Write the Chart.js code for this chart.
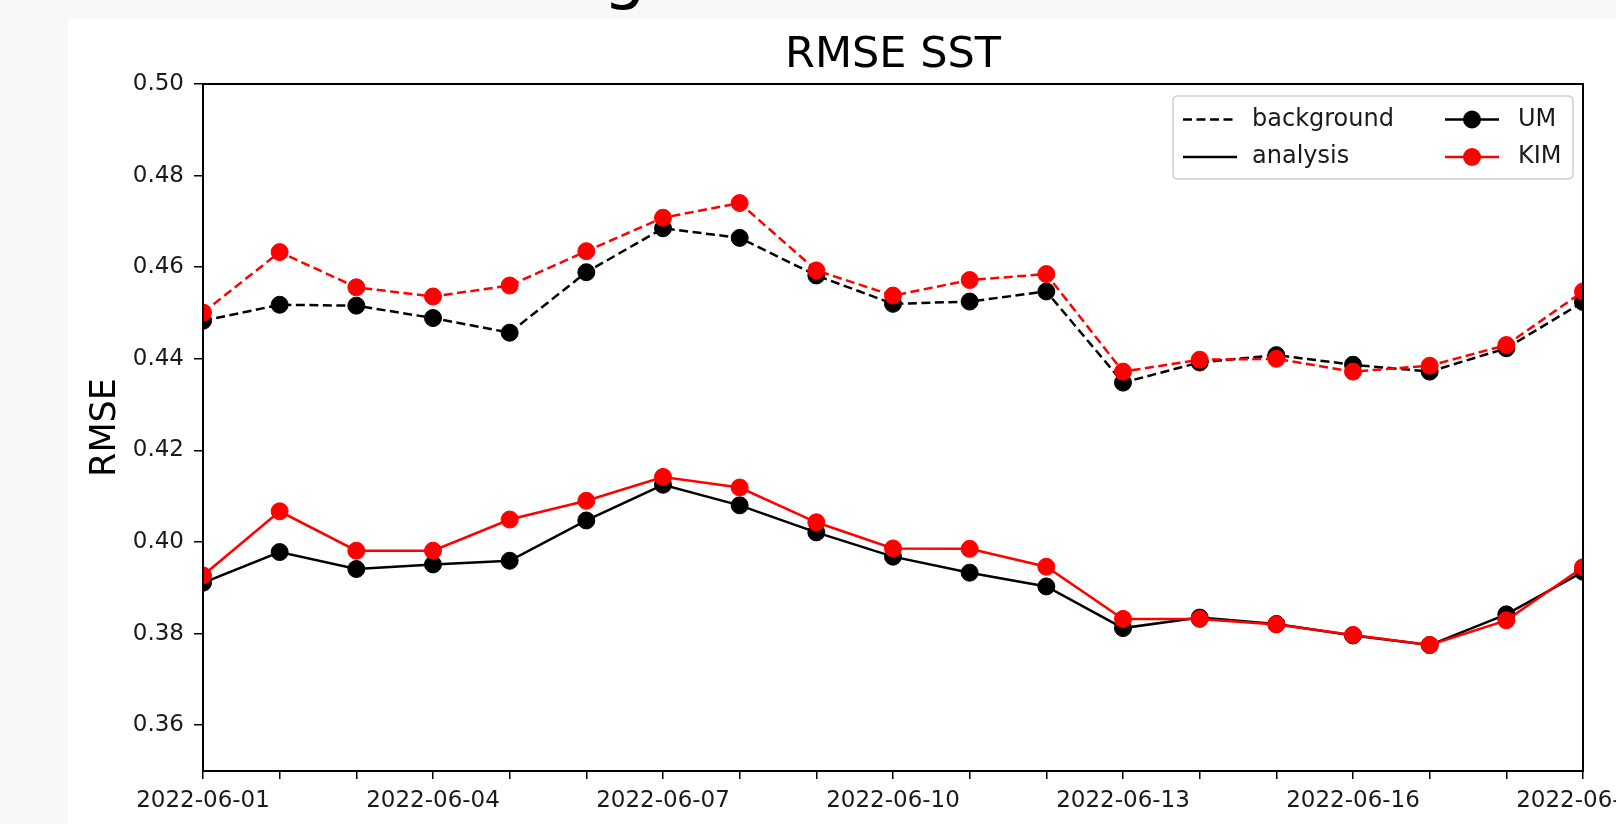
<!DOCTYPE html>
<html><head><meta charset="utf-8">
<script src="https://cdn.jsdelivr.net/npm/chart.js@4.4.1/dist/chart.umd.min.js"></script>
<style>
html,body{margin:0;padding:0;background:#f8f8f8;overflow:hidden;width:1616px;height:824px;}
#frame{position:absolute;left:68px;top:18px;width:1548px;height:806px;background:#fff;}
#g{position:absolute;left:603px;top:-61px;font-family:"DejaVu Sans";font-size:68px;line-height:68px;color:#000;}
canvas{display:block;}
</style></head><body>
<div id="g">g</div>
<div id="frame"><canvas id="c" width="1548" height="806" style="width:1548px;height:806px"></canvas></div>
<script>
const dates = ['2022-06-01','2022-06-02','2022-06-03','2022-06-04','2022-06-05','2022-06-06','2022-06-07','2022-06-08','2022-06-09','2022-06-10','2022-06-11','2022-06-12','2022-06-13','2022-06-14','2022-06-15','2022-06-16','2022-06-17','2022-06-18','2022-06-19'];
const umBackground  = [0.4483,0.4518,0.4516,0.4489,0.4457,0.4589,0.4685,0.4664,0.4582,0.4520,0.4525,0.4547,0.4348,0.4392,0.4408,0.4387,0.4372,0.4423,0.4524];
const kimBackground = [0.4501,0.4633,0.4556,0.4536,0.4560,0.4635,0.4708,0.4740,0.4593,0.4538,0.4572,0.4585,0.4372,0.4398,0.4400,0.4372,0.4385,0.4430,0.4547];
const umAnalysis    = [0.3911,0.3978,0.3941,0.3951,0.3959,0.4047,0.4125,0.4080,0.4021,0.3968,0.3933,0.3903,0.3812,0.3835,0.3821,0.3796,0.3775,0.3842,0.3935];
const kimAnalysis   = [0.3927,0.4067,0.3981,0.3981,0.4049,0.4090,0.4142,0.4119,0.4043,0.3986,0.3985,0.3946,0.3832,0.3832,0.3820,0.3797,0.3775,0.3829,0.3945];
const yTicks = [0.36,0.38,0.40,0.42,0.44,0.46,0.48,0.50];
const labelEvery = 3;
const chartTitle = 'RMSE SST';
const legendLabels = ['background','analysis','UM','KIM'];

const FONT = 'DejaVu Sans';
const DASH = [9,4.5];

function ds(label, data, color, dashed, order){
  return {label, data, borderColor:color, backgroundColor:color, borderWidth:2.5,
    borderDash: dashed ? DASH : [], pointRadius:8.5, pointHoverRadius:8.5, pointBorderWidth:1,
    pointBackgroundColor:color, pointBorderColor:color, clip:0, tension:0, order};
}

const frameAndLegend = {
  id:'frameAndLegend',
  afterDraw(chart){
    const ctx = chart.ctx, a = chart.chartArea;
    ctx.save();
    ctx.strokeStyle = '#000'; ctx.lineWidth = 2; ctx.setLineDash([]);
    ctx.strokeRect(a.left, a.top, a.right - a.left, a.bottom - a.top);
    // title centred over the plot area
    ctx.fillStyle = '#000'; ctx.font = '43px "' + FONT + '"';
    ctx.textAlign = 'center'; ctx.textBaseline = 'middle';
    ctx.fillText(chartTitle, (a.left + a.right) / 2, 37.5);
    // legend box
    const bx=1105, by=78, bw=400, bh=83, r=5;
    ctx.beginPath();
    ctx.moveTo(bx+r,by); ctx.lineTo(bx+bw-r,by); ctx.quadraticCurveTo(bx+bw,by,bx+bw,by+r);
    ctx.lineTo(bx+bw,by+bh-r); ctx.quadraticCurveTo(bx+bw,by+bh,bx+bw-r,by+bh);
    ctx.lineTo(bx+r,by+bh); ctx.quadraticCurveTo(bx,by+bh,bx,by+bh-r);
    ctx.lineTo(bx,by+r); ctx.quadraticCurveTo(bx,by,bx+r,by); ctx.closePath();
    ctx.fillStyle = 'rgba(255,255,255,0.85)'; ctx.fill();
    ctx.strokeStyle = '#cfcfcf'; ctx.lineWidth = 1.5; ctx.stroke();
    const rows = [101.5, 139];
    ctx.font = '24px "' + FONT + '"'; ctx.textBaseline = 'middle'; ctx.textAlign = 'left';
    const entries = [
      {col:0,row:0,text:legendLabels[0],color:'#000',dash:DASH,marker:false},
      {col:0,row:1,text:legendLabels[1],color:'#000',dash:[],marker:false},
      {col:1,row:0,text:legendLabels[2],color:'#000',dash:[],marker:true},
      {col:1,row:1,text:legendLabels[3],color:'#ff0000',dash:[],marker:true}
    ];
    const cols = [{x0:1115,x1:1169,tx:1184},{x0:1377,x1:1431,tx:1450}];
    entries.forEach(e=>{
      const c = cols[e.col], y = rows[e.row];
      ctx.strokeStyle = e.color; ctx.lineWidth = 2.5; ctx.setLineDash(e.dash);
      ctx.beginPath(); ctx.moveTo(c.x0,y); ctx.lineTo(c.x1,y); ctx.stroke();
      ctx.setLineDash([]);
      if (e.marker){ ctx.fillStyle = e.color; ctx.beginPath(); ctx.arc((c.x0+c.x1)/2, y, 9, 0, Math.PI*2); ctx.fill(); }
      ctx.fillStyle = '#1a1a1a'; ctx.fillText(e.text, c.tx, y);
    });
    ctx.restore();
  }
};

new Chart(document.getElementById('c'), {
  type:'line',
  data:{ labels: dates, datasets:[
    ds('UM background', umBackground, '#000000', true, 1),
    ds('KIM background', kimBackground, '#ff0000', true, 0),
    ds('UM analysis', umAnalysis, '#000000', false, 1),
    ds('KIM analysis', kimAnalysis, '#ff0000', false, 0)
  ]},
  options:{
    responsive:false, animation:false, devicePixelRatio:1,
    layout:{padding:{left:0,right:33,top:66,bottom:0}},
    plugins:{
      legend:{display:false}, tooltip:{enabled:false}, title:{display:false}
    },
    scales:{
      x:{ type:'category', offset:false,
        grid:{display:true, drawOnChartArea:false, drawTicks:true, tickLength:8, color:'#000', lineWidth:1.5},
        border:{display:true, color:'#000', width:2},
        ticks:{autoSkip:false, maxRotation:0, minRotation:0, padding:8, color:'#1a1a1a', font:{family:FONT,size:23},
          callback:(v,i)=> i % labelEvery === 0 ? dates[i] : ''},
        afterFit:s=>{ s.paddingLeft = 0; s.paddingRight = 0; s.height = 53; }
      },
      y:{ type:'linear', min:0.35, max:0.50,
        afterBuildTicks:s=>{ s.ticks = yTicks.map(v=>({value:v})); },
        grid:{display:true, drawOnChartArea:false, drawTicks:true, tickLength:9, color:'#000', lineWidth:1.5},
        border:{display:true, color:'#000', width:2},
        ticks:{padding:10, color:'#1a1a1a', font:{family:FONT,size:23}, callback:v=>Number(v).toFixed(2)},
        title:{display:true, text:'RMSE', color:'#000', font:{family:FONT,size:35}, padding:{top:17,bottom:0}},
        afterFit:s=>{ s.width = 135; s.paddingTop = 0; s.paddingBottom = 0; }
      }
    }
  },
  plugins:[frameAndLegend]
});
</script>
</body></html>
